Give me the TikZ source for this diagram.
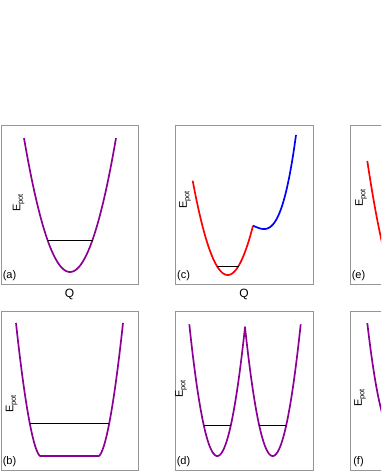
\documentclass[tikz,border=0pt]{standalone}
\usepackage{fontspec}
\setmainfont{Liberation Sans}
\definecolor{pur}{RGB}{140,0,150}
\definecolor{frame}{RGB}{150,150,150}
\begin{document}
\begin{tikzpicture}[x=1pt,y=-1pt,
  panel/.style={draw=frame, line width=0.9pt},
  curve/.style={line width=1.7pt, line join=round, samples=80},
  level/.style={draw=black, line width=1pt},
  lab/.style={font=\fontsize{11}{13}\selectfont, inner sep=0pt},
  qlab/.style={font=\fontsize{12}{14}\selectfont, inner sep=0pt},
  elab/.style={font=\fontsize{11}{13}\selectfont, inner sep=0pt, rotate=90}
]
\useasboundingbox (0,0) rectangle (381,474);
\clip (0,0) rectangle (381,474);
\newcommand{\epot}{E\raisebox{-2.5pt}{\fontsize{7.5}{8}\selectfont pot}}

% ---------- panel (a)
\draw[panel] (1,125) rectangle (138,284);
\draw[curve, pur] plot[domain=24:116] (\x, {272-0.0633*(\x-70)^2});
\draw[level] (47.5,240) -- (92.5,240);
\node[lab] (la) at (9.5,276) {(a)};
\node[elab] (ea) at (18.5,203) {\epot};
\node[qlab] (qa) at (69.5,294) {Q};

% ---------- panel (c)
\draw[panel] (175,125) rectangle (313,284);
\draw[curve, red] plot[domain=192.7:253] (\x, {275-0.077*(\x-227.7)^2});
\draw[curve, blue] plot[domain=253:296] (\x, {229-0.0438*(\x-264)^2-(0.1145*(\x-264))^3});
\draw[level] (216.9,266) -- (238.5,266);
\node[lab] (lc) at (183.5,276) {(c)};
\node[elab] (ec) at (185,200) {\epot};
\node[qlab] (qc) at (244,294) {Q};

% ---------- panel (e)
\draw[panel] (350,125) rectangle (500,284);
\draw[curve, red] plot[domain=367.3:390] (\x, {306-0.077*(\x-410.7)^2});
\node[lab] (le) at (358.5,276) {(e)};
\node[elab] (ee) at (361,198) {\epot};

% ---------- panel (b)
\draw[panel] (1,311) rectangle (138,470);
\draw[curve, pur] plot[domain=24.5:0.001] ({40.5-\x}, {456-0.5785*\x^1.7})
  -- plot[domain=0.001:24.5] ({98.5+\x}, {456-0.5785*\x^1.7});
\draw[level] (29.7,423) -- (109.3,423);
\node[lab] (lb) at (9.5,462) {(b)};
\node[elab] (eb) at (11.5,404) {\epot};

% ---------- panel (d)
\draw[panel] (175,311) rectangle (313,470);
\draw[curve, pur] plot[domain=189.3:245] (\x, {456-0.168*(\x-217.3)^2})
  -- plot[domain=245:300.7] (\x, {456-0.168*(\x-272.7)^2});
\draw[level] (203.8,425.3) -- (230.8,425.3);
\draw[level] (259.2,425.3) -- (286.2,425.3);
\node[lab] (ld) at (183.5,462) {(d)};
\node[elab] (ed) at (181,389) {\epot};

% ---------- panel (f)
\draw[panel] (350,311) rectangle (500,470);
\draw[curve, pur] plot[domain=367.3:392] (\x, {432.3-0.168*(\x-392.8)^2});
\node[lab] (lf) at (358.5,462) {(f)};
\node[elab] (ef) at (360,398) {\epot};
\end{tikzpicture}
\end{document}
